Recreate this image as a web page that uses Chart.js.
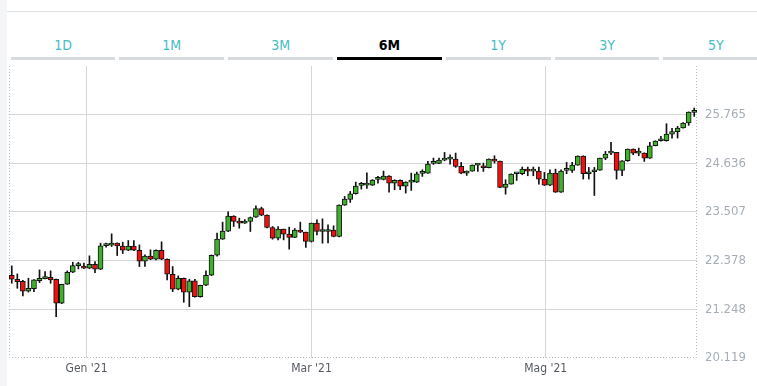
<!DOCTYPE html>
<html lang="it">
<head>
<meta charset="utf-8">
<title>6M</title>
<script src="https://cdn.jsdelivr.net/npm/chart.js@4.4.1/dist/chart.umd.min.js"></script>
<style>
    html, body { margin: 0; padding: 0; background: #fff; }
    body { width: 757px; height: 386px; position: relative; overflow: hidden;
           font-family: 'Liberation Sans Narrow', 'DejaVu Sans Condensed', 'Roboto', sans-serif; }
    .side-strip { position: absolute; left: 0; top: 0; width: 7px; height: 386px; background: #f4f5f7; }
    .top-line { position: absolute; left: 7px; top: 11px; width: 750px; height: 1px; background: #dfe2e5; }
    .tabs { position: absolute; left: 10.6px; top: 33px; display: flex; gap: 4px; }
    .tab { width: 104.8px; height: 24px; border-bottom: 3px solid #d7dbde; text-align: center;
           font-size: 14px; line-height: 24px; color: #45bcc6; }
    .tab.active { border-bottom-color: #000; color: #000; font-weight: bold; }
    .chart-box { position: absolute; left: 0; top: 62px; width: 757px; height: 324px; }
</style>
</head>
<body>
<div class="side-strip"></div>
<div class="top-line"></div>
<div class="tabs">
    <div class="tab">1D</div>
    <div class="tab">1M</div>
    <div class="tab">3M</div>
    <div class="tab active">6M</div>
    <div class="tab">1Y</div>
    <div class="tab">3Y</div>
    <div class="tab">5Y</div>
</div>
<div class="chart-box"><canvas id="priceChart" width="757" height="324"></canvas></div>

<script>
// --- Daily candles (mid Dec '20 -> early Jun '21) ---
const opens = [
    22.039, 21.946, 21.900, 21.668, 21.730, 21.915, 21.962, 21.993, 21.946, 21.389,
    21.830, 22.109, 22.264, 22.249, 22.202, 22.295, 22.179, 22.725, 22.736, 22.783,
    22.713, 22.620, 22.713, 22.620, 22.365, 22.481, 22.411, 22.620, 22.411, 22.063,
    21.714, 21.970, 21.644, 21.908, 21.544, 21.807, 22.039, 22.504, 22.876, 23.062,
    23.410, 23.286, 23.247, 23.286, 23.387, 23.588, 23.433, 23.147, 22.899, 23.108,
    22.992, 22.915, 23.085, 23.039, 22.822, 23.248, 23.054, 23.054, 23.085, 22.938,
    23.666, 23.798, 23.929, 24.123, 24.131, 24.131, 24.262, 24.262, 24.340, 24.177,
    24.239, 24.107, 24.200, 24.200, 24.402, 24.409, 24.634, 24.634, 24.711, 24.734,
    24.734, 24.564, 24.409, 24.456, 24.595, 24.580, 24.533, 24.734, 24.688, 24.076,
    24.154, 24.394, 24.394, 24.502, 24.456, 24.456, 24.270, 24.130, 24.409, 23.968,
    24.471, 24.471, 24.595, 24.804, 24.394, 24.440, 24.479, 24.758, 24.874, 24.889,
    24.471, 24.696, 24.967, 24.874, 24.874, 24.758, 25.044, 25.160, 25.160, 25.315,
    25.370, 25.455, 25.571, 25.819
];
const highs = [
    22.256, 22.070, 21.920, 21.970, 21.940, 22.163, 22.125, 22.140, 21.950, 21.830,
    22.140, 22.341, 22.341, 22.320, 22.489, 22.357, 22.783, 22.783, 23.000, 22.790,
    22.806, 22.845, 22.845, 22.744, 22.510, 22.628, 22.630, 22.814, 22.420, 22.241,
    22.024, 21.975, 21.946, 21.946, 21.810, 22.140, 22.510, 23.015, 23.271, 23.511,
    23.420, 23.364, 23.330, 23.390, 23.650, 23.619, 23.440, 23.170, 23.170, 23.110,
    23.155, 23.124, 23.271, 23.040, 23.250, 23.325, 23.348, 23.209, 23.186, 23.670,
    23.867, 23.984, 24.200, 24.193, 24.417, 24.260, 24.332, 24.456, 24.350, 24.255,
    24.255, 24.210, 24.409, 24.433, 24.487, 24.680, 24.758, 24.758, 24.889, 24.835,
    24.874, 24.657, 24.460, 24.600, 24.626, 24.642, 24.740, 24.812, 24.690, 24.255,
    24.390, 24.400, 24.549, 24.549, 24.549, 24.549, 24.425, 24.487, 24.502, 24.487,
    24.657, 24.657, 24.810, 24.810, 24.541, 24.541, 24.760, 24.913, 25.122, 24.890,
    24.700, 24.970, 24.970, 24.990, 24.880, 25.122, 25.160, 25.261, 25.555, 25.447,
    25.493, 25.580, 25.830, 25.919
];
const lows = [
    21.853, 21.737, 21.559, 21.650, 21.660, 21.869, 21.955, 21.853, 21.079, 21.380,
    21.825, 22.100, 22.186, 22.190, 22.190, 22.101, 22.170, 22.690, 22.705, 22.496,
    22.543, 22.610, 22.610, 22.241, 22.241, 22.400, 22.396, 22.400, 21.931, 21.660,
    21.700, 21.412, 21.311, 21.530, 21.530, 21.800, 22.030, 22.481, 22.870, 23.050,
    23.170, 23.131, 23.240, 23.054, 23.380, 23.420, 23.140, 22.876, 22.860, 22.860,
    22.644, 22.910, 23.030, 22.683, 22.810, 22.977, 22.783, 22.791, 22.930, 22.930,
    23.660, 23.728, 23.920, 24.038, 24.053, 24.120, 24.177, 24.250, 23.968, 24.022,
    24.022, 23.945, 24.007, 24.190, 24.332, 24.400, 24.610, 24.630, 24.695, 24.618,
    24.541, 24.394, 24.355, 24.450, 24.448, 24.448, 24.530, 24.641, 24.070, 23.921,
    24.150, 24.239, 24.371, 24.347, 24.347, 24.154, 24.120, 24.120, 23.960, 23.960,
    24.394, 24.425, 24.590, 24.270, 24.270, 23.890, 24.470, 24.719, 24.835, 24.270,
    24.347, 24.680, 24.835, 24.812, 24.680, 24.750, 25.040, 25.150, 25.150, 25.222,
    25.222, 25.450, 25.517, 25.726
];
const closes = [
    21.946, 21.892, 21.668, 21.737, 21.931, 21.970, 21.993, 21.931, 21.389, 21.830,
    22.109, 22.264, 22.270, 22.202, 22.295, 22.179, 22.721, 22.733, 22.783, 22.721,
    22.620, 22.713, 22.620, 22.365, 22.481, 22.411, 22.620, 22.411, 22.063, 21.714,
    21.970, 21.644, 21.908, 21.544, 21.807, 22.039, 22.504, 22.876, 23.062, 23.410,
    23.286, 23.247, 23.286, 23.379, 23.588, 23.433, 23.147, 22.899, 23.108, 22.992,
    22.915, 23.085, 23.039, 22.822, 23.248, 23.054, 23.054, 23.085, 22.938, 23.666,
    23.805, 23.929, 24.107, 24.123, 24.131, 24.247, 24.262, 24.340, 24.177, 24.239,
    24.107, 24.200, 24.200, 24.394, 24.409, 24.618, 24.634, 24.711, 24.750, 24.734,
    24.564, 24.409, 24.456, 24.595, 24.595, 24.533, 24.734, 24.688, 24.076, 24.154,
    24.386, 24.394, 24.502, 24.456, 24.456, 24.270, 24.130, 24.409, 23.968, 24.456,
    24.471, 24.595, 24.804, 24.394, 24.440, 24.479, 24.758, 24.851, 24.874, 24.471,
    24.696, 24.967, 24.874, 24.874, 24.758, 25.044, 25.153, 25.160, 25.315, 25.370,
    25.455, 25.571, 25.826, 25.819
];

// Axis ticks
const yTicks = [20.119, 21.248, 22.378, 23.507, 24.636, 25.765];
const yMin = 20.119;
const yMax = 26.894;
const xTickLabels = ["Gen '21", "Mar '21", "Mag '21"];
const xTickPos = [13.47, 54.02, 96.24]; // month starts, in candle index units

document.addEventListener('DOMContentLoaded', () => {
    const canvas = document.getElementById('priceChart');
    const ctx = canvas.getContext('2d');

    const GRID = '#d6d6d6';
    const DOTTED = '#b9bec4';
    const UP = '#3fb02c';
    const DOWN = '#f2100f';
    const FONT = "'Liberation Sans Narrow', 'DejaVu Sans Condensed', sans-serif";

    // Bodies and wicks as floating bars
    const bodies = opens.map((o, i) => ({ x: i, y: [o, closes[i]] }));
    const wicks = lows.map((l, i) => ({ x: i, y: [l, highs[i]] }));
    const bodyColors = opens.map((o, i) => (closes[i] >= o ? UP : DOWN));

    // Dotted frame on the left, bottom and right of the plot
    const dottedFrame = {
        id: 'dottedFrame',
        beforeDatasetsDraw(chart) {
            const { ctx, chartArea: a } = chart;
            ctx.save();
            ctx.strokeStyle = DOTTED;
            ctx.lineWidth = 1;
            ctx.setLineDash([1, 2]);
            ctx.beginPath();
            ctx.moveTo(a.left + 0.5, a.top);
            ctx.lineTo(a.left + 0.5, a.bottom - 0.5);
            ctx.lineTo(a.right - 0.5, a.bottom - 0.5);
            ctx.lineTo(a.right - 0.5, a.top);
            ctx.stroke();
            ctx.restore();
        }
    };

    new Chart(ctx, {
        type: 'bar',
        data: {
            datasets: [
                {
                    label: 'body',
                    data: bodies,
                    backgroundColor: bodyColors,
                    borderColor: '#111',
                    borderWidth: 1,
                    borderSkipped: false,
                    barThickness: 5,
                    minBarLength: 2,
                    grouped: false
                },
                {
                    label: 'wick',
                    data: wicks,
                    backgroundColor: '#111',
                    borderWidth: 0,
                    barThickness: 1,
                    grouped: false
                }
            ]
        },
        options: {
            responsive: false,
            animation: false,
            events: [],
            layout: { padding: { top: 4, left: 9, right: 0, bottom: 0 } },
            plugins: {
                legend: { display: false },
                tooltip: { enabled: false }
            },
            scales: {
                x: {
                    type: 'linear',
                    min: -0.5,
                    max: opens.length - 0.5,
                    offset: false,
                    afterBuildTicks: (scale) => {
                        scale.ticks = xTickPos.map(v => ({ value: v }));
                    },
                    afterFit: (scale) => {
                        scale.height = 28;
                        scale.paddingLeft = 0;
                        scale.paddingRight = 0;
                    },
                    ticks: {
                        autoSkip: false,
                        maxRotation: 0,
                        padding: 4,
                        color: '#555a60',
                        font: { family: FONT, size: 12 },
                        callback: (value, index) => xTickLabels[index]
                    },
                    grid: { color: GRID, drawTicks: false, offset: false },
                    border: { display: false }
                },
                y: {
                    position: 'right',
                    min: yMin,
                    max: yMax,
                    afterBuildTicks: (scale) => {
                        scale.ticks = yTicks.map(v => ({ value: v }));
                    },
                    afterFit: (scale) => {
                        scale.width = 60;
                        scale.paddingTop = 0;
                        scale.paddingBottom = 0;
                    },
                    ticks: {
                        padding: 8,
                        color: '#a5adb6',
                        font: { family: FONT, size: 13 },
                        callback: (value) => Number(value).toFixed(3)
                    },
                    grid: {
                        drawTicks: false,
                        color: (c) => (c.tick && c.tick.value === yMin ? 'rgba(0,0,0,0)' : GRID)
                    },
                    border: { display: false }
                }
            }
        },
        plugins: [dottedFrame]
    });
});
</script>
</body>
</html>
